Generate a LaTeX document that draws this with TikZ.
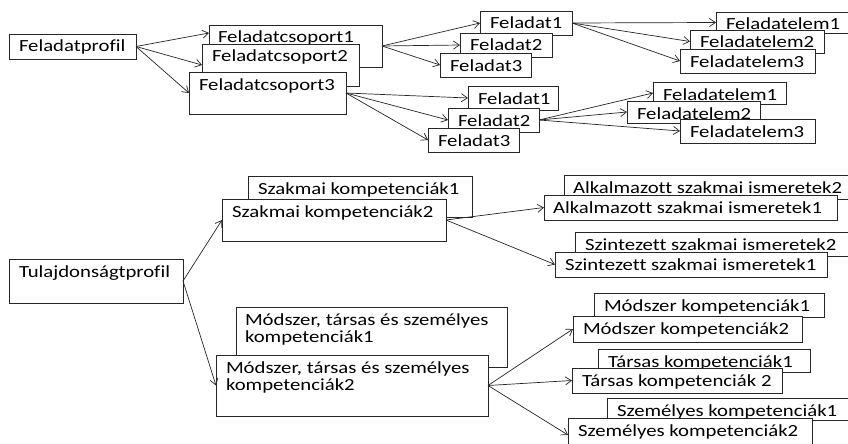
\documentclass[tikz,border=0pt]{standalone}
\usepackage{fontspec}
\setmainfont{Carlito}[FakeStretch=1.22, Ligatures=NoCommon]
\usetikzlibrary{arrows.meta}
\tikzset{
  bx/.style={draw=black!85, fill=white, line width=0.9pt, inner sep=0pt, outer sep=0pt, anchor=north west, rectangle},
  tx/.style={anchor=base west, inner sep=0pt, outer sep=0pt, font=\fontsize{17}{17.5}\selectfont, text=black},
  arr/.style={draw=black!85, line width=0.7pt, -{Straight Barb[length=6pt,width=8pt,line width=0.7pt]}}
}
\newcommand\mybox[7]{%
  \node[bx, minimum width={#4-#2}, minimum height={#5-#3}] (#1) at (#2,#3) {};
  \node[tx] (#1t) at ([xshift=#6pt,yshift=-18pt]#1.north west) {#7};
}
\begin{document}
\begin{tikzpicture}[x=1pt,y=-1pt]
\useasboundingbox (0,0) rectangle (848,444);
\fill[white] (0,0) rectangle (848,444);
\clip (0,0) rectangle (848,444);
% upper part
\mybox{fp}{9}{34}{136}{59}{10}{Feladatprofil}
\mybox{ca}{209}{25}{382}{67}{9}{Feladatcsoport1}
\mybox{cb}{202}{44}{359}{86}{10}{Feladatcsoport2}
\mybox{cc}{189}{72}{346}{114}{10}{Feladatcsoport3}
\mybox{fa}{480}{11}{572}{35}{10}{Feladat1}
\mybox{fb}{460}{33}{552}{57}{10}{Feladat2}
\mybox{fc}{440}{53}{531}{77}{10}{Feladat3}
\mybox{ea}{716}{12}{870}{33}{10}{Feladatelem1}
\mybox{eb}{690}{30}{824}{53}{10}{Feladatelem2}
\mybox{ec}{680}{49}{815}{73}{10}{Feladatelem3}
\mybox{ga}{468}{86}{558}{110}{10}{Feladat1}
\mybox{gb}{448}{108}{539}{132}{10}{Feladat2}
\mybox{gc}{428}{128}{519}{152}{10}{Feladat3}
\mybox{ha}{653}{82}{786}{104}{10}{Feladatelem1}
\mybox{hb}{627}{101}{760}{123}{10}{Feladatelem2}
\mybox{hc}{680}{119}{815}{143}{10}{Feladatelem3}
% lower part
\mybox{tp}{9}{259}{183}{303}{10}{Tulajdonságtprofil}
\mybox{sa}{248}{176}{472}{217}{10}{Szakmai kompetenciák1}
\mybox{sb}{222}{199}{446}{241}{10}{Szakmai kompetenciák2}
\mybox{ab}{564}{175}{870}{199}{9}{Alkalmazott szakmai ismeretek2}
\mybox{aa}{544}{195}{837}{220}{9}{Alkalmazott szakmai ismeretek1}
\mybox{zb}{575}{232}{870}{256}{10}{Szintezett szakmai ismeretek2}
\mybox{za}{555}{252}{827}{277}{10}{Szintezett szakmai ismeretek1}
\mybox{ma}{236}{307}{507}{367}{9}{\begin{tabular}[t]{@{}l@{}}Módszer, társas és személyes\\kompetenciák1\end{tabular}}
\mybox{mb}{216}{355}{488}{416}{10}{\begin{tabular}[t]{@{}l@{}}Módszer, társas és személyes\\kompetenciák2\end{tabular}}
\mybox{ka}{594}{293}{824}{317}{10}{Módszer kompetenciák1}
\mybox{kb}{573}{316}{802}{342}{10}{Módszer kompetenciák2}
\mybox{ta}{598}{349}{810}{372}{10}{Társas kompetenciák1}
\mybox{tb}{572}{368}{782}{393}{10}{Társas kompetenciák 2}
\mybox{pa}{607}{398}{870}{420}{10}{Személyes kompetenciák1}
\mybox{pb}{568}{418}{812}{452}{10}{Személyes kompetenciák2}
% connectors
\draw[arr] (fp.east) -- ([yshift=-8pt]ca.north west);
\draw[arr] (fp.east) -- (cb.west);
\draw[arr] (fp.east) -- (cc.west);
\draw[arr] (ca.east) -- (fa.west);
\draw[arr] (ca.east) -- (fb.west);
\draw[arr] (ca.east) -- (fc.west);
\draw[arr] (fa.east) -- (ea.west);
\draw[arr] (fa.east) -- (eb.west);
\draw[arr] (fa.east) -- (ec.west);
\draw[arr] (cc.east) -- (ga.west);
\draw[arr] (cc.east) -- (gb.west);
\draw[arr] (cc.east) -- (gc.west);
\draw[arr] (gb.east) -- (ha.west);
\draw[arr] (gb.east) -- (hb.west);
\draw[arr] (gb.east) -- (hc.west);
\draw[arr] (tp.east) -- (sb.west);
\draw[arr] (tp.east) -- (mb.west);
\draw[arr] (sb.east) -- (aa.west);
\draw[arr] (sb.east) -- (za.west);
\draw[arr] (mb.east) -- (kb.west);
\draw[arr] (mb.east) -- (tb.west);
\draw[arr] (mb.east) -- (pb.west);
\end{tikzpicture}
\end{document}
